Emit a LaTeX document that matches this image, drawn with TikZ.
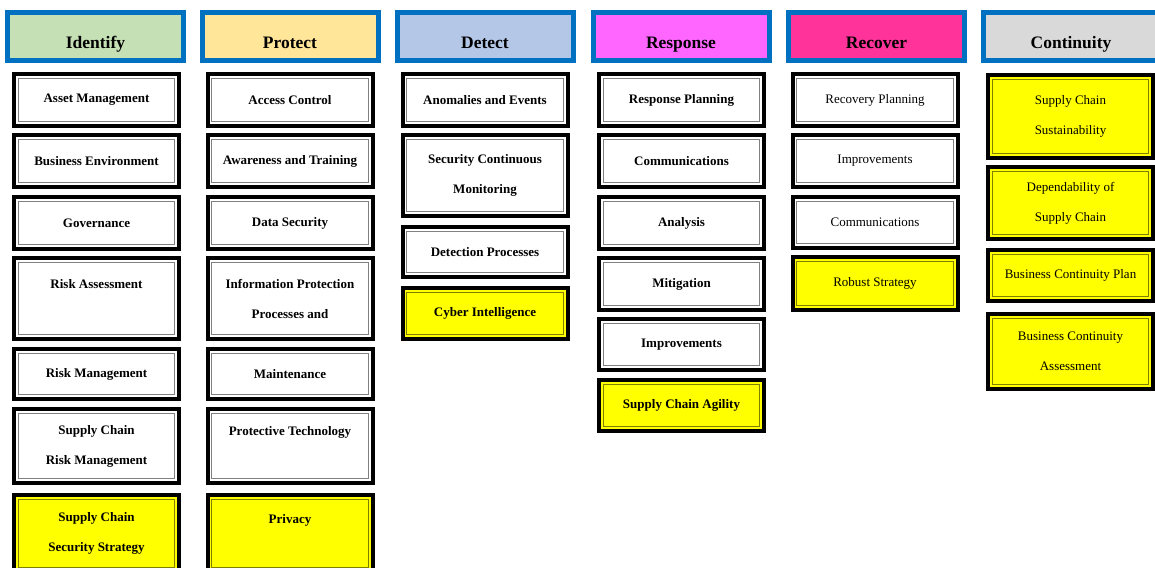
\documentclass[tikz,border=0pt]{standalone}
\usepackage{fontspec}
\setmainfont{Liberation Serif}
\usepackage{xcolor}
\definecolor{headblue}{HTML}{0070C0}
\definecolor{idfill}{HTML}{C5E0B4}
\definecolor{prfill}{HTML}{FFE699}
\definecolor{defill}{HTML}{B4C7E7}
\definecolor{rsfill}{HTML}{FF66FF}
\definecolor{rcfill}{HTML}{FF3399}
\definecolor{cofill}{HTML}{D9D9D9}
\definecolor{cellyellow}{HTML}{FFFF00}
\definecolor{innergray}{HTML}{808080}
\definecolor{innerolive}{HTML}{7F7F00}
\usepackage{tikz}
\usetikzlibrary{shadows}

\begin{document}
\begin{tikzpicture}[x=1pt, y=-1pt,
  every node/.style={align=center},
  headbox/.style={draw=headblue, line width=5pt, minimum width=176pt, minimum height=48pt,
    text height=24pt, text depth=0pt, font=\fontsize{17.5}{20}\selectfont\bfseries,
    drop shadow={shadow xshift=2pt, shadow yshift=-2pt, fill=black!45, opacity=0.8}},
  cellbase/.style={draw=black, line width=4pt, minimum width=165pt, anchor=north, inner sep=2pt,
    font=\fontsize{13}{30}\selectfont\bfseries},
  innerline/.style={path picture={\draw[#1, line width=1.3pt]
    ([shift={(4.3pt,-4.3pt)}]path picture bounding box.north west) rectangle
    ([shift={(-4.3pt,4.3pt)}]path picture bounding box.south east);}},
  whitecell/.style={cellbase, fill=white, innerline=innergray},
  yellowcell/.style={cellbase, fill=cellyellow, innerline=innerolive},
  regular/.style={font=\fontsize{13}{30}\selectfont}
]
  \useasboundingbox (0,0) rectangle (1155,567);
  \clip (0,0) rectangle (1155,567);

  \def\headcell#1#2#3#4{%
    \node[headbox, fill=#3] (#1) at (#2,36.5) {#4};
  }
  \def\cell#1#2#3#4#5#6{%
    \pgfmathsetmacro{\cellh}{#4-#3-4}
    \node[#5, minimum height=\cellh pt] (#1) at (#2,#3) {#6};
  }

  \headcell{hIdentify}{95.5}{idfill}{Identify}
  \headcell{hProtect}{290}{prfill}{Protect}
  \headcell{hDetect}{485}{defill}{Detect}
  \headcell{hResponse}{681}{rsfill}{Response}
  \headcell{hRecover}{876.5}{rcfill}{Recover}
  \headcell{hContinuity}{1071}{cofill}{Continuity}

  \cell{idAsset}{96.5}{72}{128}{whitecell}{Asset Management}
  \cell{idBusiness}{96.5}{133}{189}{whitecell}{Business Environment}
  \cell{idGovern}{96.5}{195}{251}{whitecell}{Governance}
  \cell{idRiskAss}{96.5}{256}{341}{whitecell}{Risk Assessment\\\mbox{}}
  \cell{idRiskMan}{96.5}{347}{401}{whitecell}{Risk Management}
  \cell{idChainRisk}{96.5}{407}{485}{whitecell}{Supply Chain\\Risk Management}
  \cell{idChainSec}{96.5}{493}{574}{yellowcell}{Supply Chain\\Security Strategy}

  \cell{prAccess}{290}{72}{128}{whitecell}{Access Control}
  \cell{prAware}{290}{133}{189}{whitecell}{Awareness and Training}
  \cell{prData}{290}{195}{251}{whitecell}{Data Security}
  \cell{prInfo}{290}{256}{341}{whitecell}{Information Protection\\Processes and}
  \cell{prMaint}{290}{347}{401}{whitecell}{Maintenance}
  \cell{prTech}{290}{407}{485}{whitecell}{Protective Technology\\\mbox{}}
  \cell{prPrivacy}{290}{493}{574}{yellowcell}{Privacy\\\mbox{}}

  \cell{deAnomal}{485}{72}{128}{whitecell}{Anomalies and Events}
  \cell{deMonitor}{485}{133}{218}{whitecell}{Security Continuous\\Monitoring}
  \cell{deProcess}{485}{225}{279}{whitecell}{Detection Processes}
  \cell{deCyber}{485}{286}{341}{yellowcell}{Cyber Intelligence}

  \cell{rsPlan}{681.5}{72}{128}{whitecell}{Response Planning}
  \cell{rsComm}{681.5}{133}{189}{whitecell}{Communications}
  \cell{rsAnalysis}{681.5}{195}{251}{whitecell}{Analysis}
  \cell{rsMitig}{681.5}{256}{312}{whitecell}{Mitigation}
  \cell{rsImprove}{681.5}{317}{372}{whitecell}{Improvements}
  \cell{rsAgility}{681.5}{378}{433}{yellowcell}{Supply Chain Agility}

  \cell{rcPlan}{875}{72}{128}{whitecell, regular}{Recovery Planning}
  \cell{rcImprove}{875}{133}{189}{whitecell, regular}{Improvements}
  \cell{rcComm}{875}{195}{250}{whitecell, regular}{Communications}
  \cell{rcRobust}{875}{255}{312}{yellowcell, regular}{Robust Strategy}

  \cell{coSustain}{1070.5}{73}{160}{yellowcell, regular}{Supply Chain\\Sustainability}
  \cell{coDepend}{1070.5}{165}{241}{yellowcell, regular}{Dependability of\\Supply Chain}
  \cell{coPlan}{1070.5}{248}{303}{yellowcell, regular}{Business Continuity Plan}
  \cell{coAssess}{1070.5}{312}{391}{yellowcell, regular}{Business Continuity\\Assessment}
\end{tikzpicture}
\end{document}
